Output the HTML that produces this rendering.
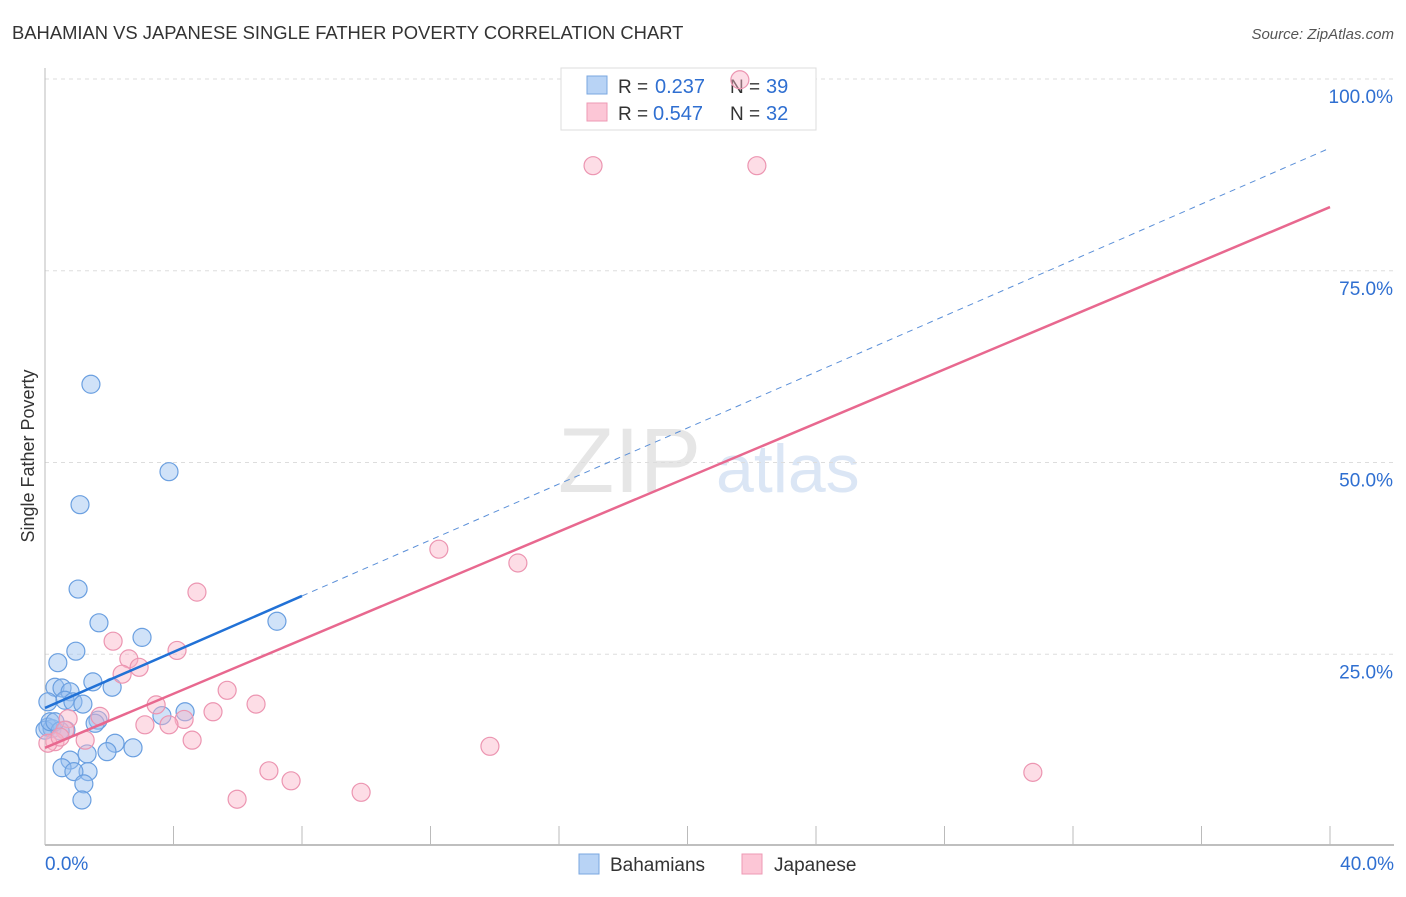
<!DOCTYPE html>
<html><head><meta charset="utf-8"><style>
body{margin:0;background:#fff;font-family:"Liberation Sans",sans-serif}
svg text{font-family:"Liberation Sans",sans-serif}
</style></head><body>
<svg id="c" width="1406" height="892">
<text x="12" y="39" font-size="18.4" fill="#333">BAHAMIAN VS JAPANESE SINGLE FATHER POVERTY CORRELATION CHART</text>
<text x="1394" y="39" font-size="15" fill="#555" text-anchor="end" font-style="italic">Source: ZipAtlas.com</text>
<text x="34" y="456" font-size="18" fill="#333" text-anchor="middle" transform="rotate(-90 34 456)">Single Father Poverty</text>
<text x="558" y="492" font-size="92" fill="#e6e6e6" font-family="Liberation Serif">ZIP</text>
<text x="716" y="492" font-size="68" fill="#dbe6f5">atlas</text>
<g id="grid"></g>
<g>
<rect x="561" y="68" width="255" height="62" fill="#fff" stroke="#ddd"/>
<rect x="587" y="76" width="20" height="18" fill="#b8d3f5" stroke="#7aa7e0"/>
<rect x="587" y="103" width="20" height="18" fill="#fcc6d6" stroke="#ee99b4"/>
<text x="618" y="93" font-size="19" fill="#333">R =</text><text x="655" y="93" font-size="20" fill="#2f6fd1">0.237</text>
<text x="730" y="93" font-size="19" fill="#333">N =</text><text x="766" y="93" font-size="20" fill="#2f6fd1">39</text>
<text x="618" y="120" font-size="19" fill="#333">R =</text><text x="653" y="120" font-size="20" fill="#2f6fd1">0.547</text>
<text x="730" y="120" font-size="19" fill="#333">N =</text><text x="766" y="120" font-size="20" fill="#2f6fd1">32</text>
</g>
<g id="pts"></g><g id="lines"></g>
<g>
<rect x="579" y="854" width="20" height="20" fill="#b8d3f5" stroke="#7aa7e0"/>
<text x="610" y="871" font-size="19" fill="#333">Bahamians</text>
<rect x="742" y="854" width="20" height="20" fill="#fcc6d6" stroke="#ee99b4"/>
<text x="774" y="871" font-size="19" fill="#333">Japanese</text>
</g>
</svg>
<script>
const xTicks=[0,4,8,12,16,20,24,28,32,36,40];
const yTicks=[25,50,75,100];
const yTickLabels=["25.0%","50.0%","75.0%","100.0%"];
const blueX=[1.43,3.86,1.09,1.03,1.68,3.02,7.22,0.96,0.40,1.49,2.09,0.31,0.53,0.78,0.62,0.87,1.18,0.09,4.36,3.64,1.65,0.09,0.22,0.65,0,2.18,1.31,1.93,2.74,0.78,0.53,1.34,0.90,1.21,1.15,0.16,0.47,1.56,0.31];
const blueY=[60.2,48.8,44.5,33.5,29.1,27.2,29.3,25.4,23.9,21.4,20.7,20.7,20.6,20.1,19.0,18.8,18.5,18.8,17.5,17.0,16.4,15.5,15.3,15.1,15.1,13.4,12.0,12.3,12.8,11.2,10.2,9.7,9.7,8.1,6.0,16.2,15.0,16.0,16.2];
const pinkX=[21.63,17.06,22.16,12.26,14.72,4.73,2.12,4.11,2.61,2.93,2.40,5.67,6.57,3.46,5.23,1.71,0.72,4.33,3.11,3.86,4.58,0.62,1.25,0.31,0.09,13.85,30.75,6.97,7.66,9.84,5.98,0.47];
const pinkY=[99.9,88.7,88.7,38.7,36.9,33.1,26.7,25.5,24.4,23.3,22.4,20.3,18.5,18.4,17.5,16.9,16.6,16.5,15.8,15.8,13.8,15.1,13.8,13.6,13.4,13.0,9.6,9.8,8.5,7.0,6.1,14.2];
const blueFit=[18.0,91.0], pinkFit=[12.8,83.3];
const X=v=>45+v/40*1285, Y=v=>846-v/100*767;
const NS="http://www.w3.org/2000/svg";
function mk(p,t,a){const e=document.createElementNS(NS,t);for(const k in a)e.setAttribute(k,a[k]);p.appendChild(e);return e;}
const g=document.getElementById('grid');
yTicks.forEach((t,i)=>{
 const l=mk(g,'line',{x1:45,x2:1394,y1:Y(t),y2:Y(t),stroke:'#ddd','stroke-dasharray':'4,4'});
 
 
 const tx=mk(g,'text',{x:1393,y:Y(t)+24,'font-size':19,fill:'#2f6fd1','text-anchor':'end'});tx.textContent=yTickLabels[i];
 
 
});
const ax=mk(g,'line',{x1:45,x2:1394,y1:845,y2:845,stroke:'#aaa','stroke-width':1.5});


const ay=mk(g,'line',{x1:45,x2:45,y1:68,y2:845,stroke:'#bbb'});


xTicks.forEach(t=>{const l=mk(g,'line',{x1:X(t),x2:X(t),y1:826,y2:845,stroke:'#bbb'});
 
 });
[["0.0%",45,'start'],["40.0%",1394,'end']].forEach(a=>{const t=mk(g,'text',{x:a[1],y:870,'font-size':19,fill:'#2f6fd1','text-anchor':a[2]});t.textContent=a[0];
 
 });
const P=document.getElementById('pts');
blueX.forEach((x,i)=>{const c=mk(P,'circle',{cx:X(x),cy:Y(blueY[i]),r:9,fill:'rgba(150,190,240,0.45)',stroke:'#6a9fe0','stroke-width':1.2});
 
 });
pinkX.forEach((x,i)=>{const c=mk(P,'circle',{cx:X(x),cy:Y(pinkY[i]),r:9,fill:'rgba(250,180,200,0.45)',stroke:'#ec95b1','stroke-width':1.2});
 
 });
const L=document.getElementById('lines');
const by=x=>blueFit[0]+(blueFit[1]-blueFit[0])*x/40, py=x=>pinkFit[0]+(pinkFit[1]-pinkFit[0])*x/40;
let l=mk(L,'line',{x1:X(0),y1:Y(by(0)),x2:X(8),y2:Y(by(8)),stroke:'#2171d6','stroke-width':2.5});


l=mk(L,'line',{x1:X(8),y1:Y(by(8)),x2:X(40),y2:Y(by(40)),stroke:'#5a8fd8','stroke-width':1,'stroke-dasharray':'6,5'});


l=mk(L,'line',{x1:X(0),y1:Y(py(0)),x2:X(40),y2:Y(py(40)),stroke:'#e8688f','stroke-width':2.5});


</script>
</body></html>
